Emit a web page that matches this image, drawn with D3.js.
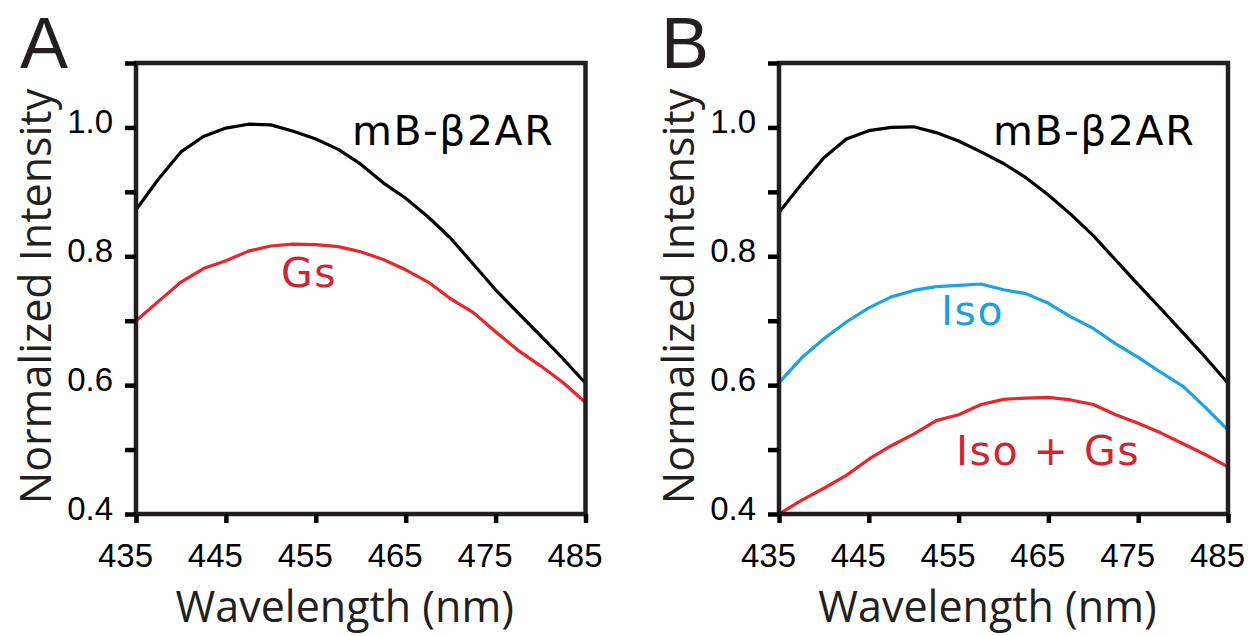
<!DOCTYPE html>
<html>
<head>
<meta charset="utf-8">
<script src="https://cdn.jsdelivr.net/npm/d3@7"></script>
<style>
  html, body { margin: 0; padding: 0; background: #fff; }
  svg { display: block; }
  .tick text { font-family: "Liberation Sans", Arial, sans-serif; font-size: 33px; fill: #000; }
  .title { font-family: "Open Sans", "Noto Sans", sans-serif; fill: #231f20; }
  .letter { font-family: "Liberation Sans", Arial, sans-serif; fill: #231f20; }
  .note { font-family: "DejaVu Sans", Verdana, sans-serif; }
</style>
</head>
<body>
<svg id="chart" width="1248" height="636"></svg>
<script>
// wavelength grid (nm)
const wavelengths = [435, 437.5, 440, 442.5, 445, 447.5, 450, 452.5, 455, 457.5, 460,
                     462.5, 465, 467.5, 470, 472.5, 475, 477.5, 480, 482.5, 485];

// panel A
const mbA = [0.872, 0.920, 0.962, 0.986, 0.999, 1.005, 1.004, 0.994, 0.982, 0.966, 0.943,
             0.914, 0.890, 0.861, 0.828, 0.788, 0.748, 0.712, 0.677, 0.641, 0.603];
const gsA = [0.700, 0.730, 0.760, 0.781, 0.793, 0.808, 0.816, 0.819, 0.818, 0.815, 0.807,
             0.795, 0.779, 0.760, 0.734, 0.713, 0.683, 0.654, 0.630, 0.604, 0.573];

// panel B
const mbB = [0.868, 0.912, 0.953, 0.982, 0.995, 1.000, 1.001, 0.992, 0.979, 0.962, 0.944,
             0.922, 0.895, 0.865, 0.832, 0.794, 0.756, 0.719, 0.681, 0.643, 0.603];
const isoB = [0.604, 0.642, 0.672, 0.698, 0.720, 0.737, 0.747, 0.753, 0.755, 0.757, 0.748,
              0.742, 0.727, 0.706, 0.688, 0.664, 0.643, 0.620, 0.598, 0.565, 0.530];
const isoGsB = [0.400, 0.421, 0.440, 0.460, 0.485, 0.506, 0.524, 0.545, 0.554, 0.570, 0.578,
                0.580, 0.581, 0.577, 0.570, 0.554, 0.541, 0.526, 0.509, 0.492, 0.473];

const xTicks = [435, 445, 455, 465, 475, 485];
const yTicks = [0.4, 0.5, 0.6, 0.7, 0.8, 0.9, 1.0, 1.1];

const RED = '#e8262b', BLUE = '#1ba3e2', BLACK = '#000';

const panels = [
  {
    letter: 'A', left: 136, right: 585.5, letterX: 20,
    series: [
      { values: mbA, color: BLACK },
      { values: gsA, color: RED }
    ],
    labels: [
      { text: 'mB-β2AR', x: 352, y: 145, color: '#000' },
      { text: 'Gs', x: 281, y: 287, color: '#d42330' }
    ]
  },
  {
    letter: 'B', left: 779, right: 1228, letterX: 661,
    series: [
      { values: mbB, color: BLACK },
      { values: isoB, color: BLUE },
      { values: isoGsB, color: RED }
    ],
    labels: [
      { text: 'mB-β2AR', x: 993, y: 145, color: '#000' },
      { text: 'Iso', x: 941, y: 325, color: '#1e9fdb' },
      { text: 'Iso + Gs', x: 956, y: 465, color: '#d42330' }
    ]
  }
];

const svg = d3.select('#chart');
const plotTop = 63, plotBottom = 514;

panels.forEach(p => {
  const x = d3.scaleLinear().domain([435, 485]).range([p.left, p.right]);
  const y = d3.scaleLinear().domain([0.4, 1.1]).range([plotBottom, plotTop]);
  const g = svg.append('g');

  // curves
  const line = d3.line()
    .x((d, i) => x(wavelengths[i]))
    .y(d => y(d));
  p.series.forEach(s => {
    g.append('path')
      .datum(s.values)
      .attr('d', line)
      .attr('fill', 'none')
      .attr('stroke', s.color)
      .attr('stroke-width', 3.2)
      .attr('stroke-linejoin', 'round');
  });

  // frame
  g.append('rect')
    .attr('x', p.left).attr('y', plotTop)
    .attr('width', p.right - p.left).attr('height', plotBottom - plotTop)
    .attr('fill', 'none')
    .attr('stroke', '#231f20')
    .attr('stroke-width', 4.5);

  // y axis
  const yAxis = g.append('g')
    .attr('transform', `translate(${p.left},0)`)
    .call(d3.axisLeft(y).tickValues(yTicks).tickSize(11).tickSizeOuter(0)
      .tickFormat(d => Math.round(d * 10) % 2 === 0 && d < 1.05 ? d.toFixed(1) : ''));
  yAxis.select('.domain').remove();
  yAxis.selectAll('.tick line').attr('stroke', '#000').attr('stroke-width', 4.5);
  yAxis.selectAll('.tick text').attr('x', -23).attr('dy', '0.18em').attr('dx', 0)
    .attr('y', -0.5);

  // x axis
  const xAxis = g.append('g')
    .attr('transform', `translate(0,${plotBottom})`)
    .call(d3.axisBottom(x).tickValues(xTicks).tickSize(9).tickSizeOuter(0));
  xAxis.select('.domain').remove();
  xAxis.selectAll('.tick line').attr('stroke', '#000').attr('stroke-width', 4.5);
  xAxis.selectAll('.tick text').attr('y', 53).attr('dy', 0).attr('dx', -11);

  // axis titles
  const cx = (p.left + p.right) / 2;
  g.append('text').attr('class', 'title')
    .attr('x', cx - 16).attr('y', 622)
    .attr('text-anchor', 'middle')
    .style('font-size', '43px')
    .text('Wavelength (nm)');
  g.append('text').attr('class', 'title')
    .attr('transform', `translate(${p.left - 85},${(plotTop + plotBottom) / 2 + 8}) rotate(-90)`)
    .attr('text-anchor', 'middle')
    .style('font-size', '43px')
    .text('Normalized Intensity');

  // panel letter
  g.append('text').attr('class', 'letter')
    .attr('x', p.letterX).attr('y', 68)
    .style('font-size', '72px')
    .text(p.letter);

  // series labels
  p.labels.forEach(l => {
    g.append('text').attr('class', 'note')
      .attr('x', l.x).attr('y', l.y)
      .style('font-size', '41px')
      .style('letter-spacing', '1.5px')
      .style('fill', l.color)
      .text(l.text);
  });
});
</script>
</body>
</html>
